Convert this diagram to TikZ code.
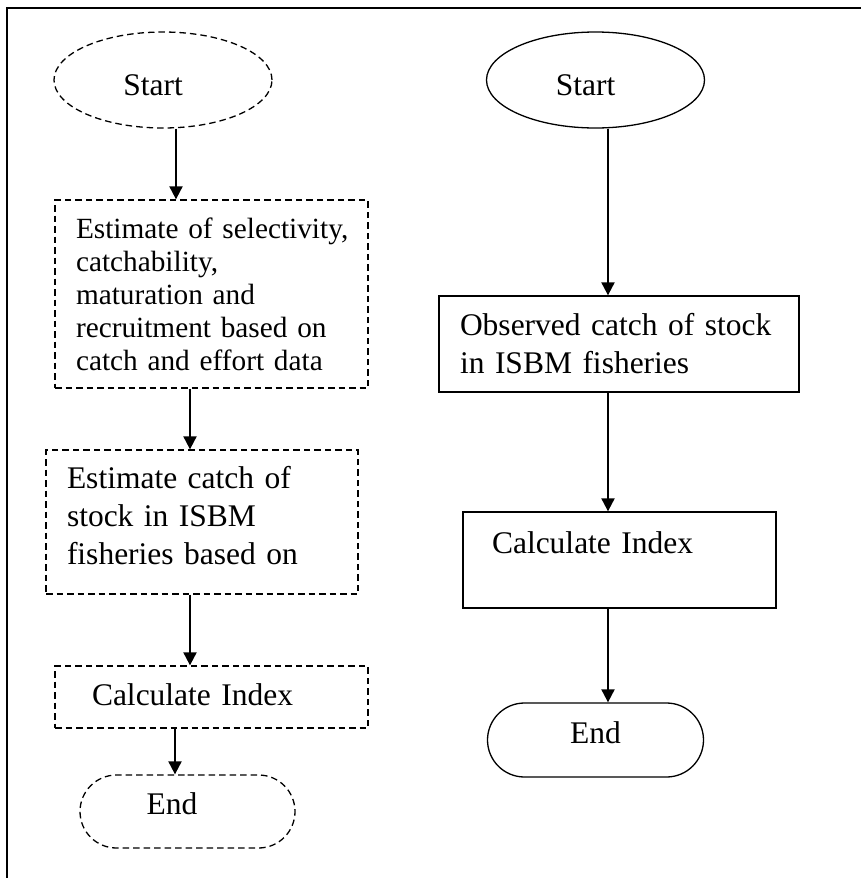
\documentclass[tikz,border=0pt]{standalone}
\usepackage{fontspec}
\setmainfont{Liberation Serif}
\usepackage{tikz}
\usetikzlibrary{shapes.geometric}
\usetikzlibrary{shapes.misc}
\usetikzlibrary{arrows.meta}
\hyphenpenalty=10000
\exhyphenpenalty=10000

\tikzset{
  frame/.style={line width=2pt},
  base/.style={draw, line width=1.3pt, inner sep=0pt, font=\fontsize{31.5}{38}\selectfont},
  guess/.style={base, dash pattern=on 6.5pt off 4pt},
  term/.style={ellipse, minimum width=218pt, minimum height=96pt, text height=30pt, text depth=0pt},
  stop/.style={rounded rectangle, minimum width=216pt, minimum height=74pt, text height=22pt, text depth=16pt},
  box/.style={rectangle, align=left},
  arr/.style={-{Triangle[length=13pt,width=13pt]}, line width=2pt}
}

\begin{document}
\begin{tikzpicture}[x=1pt,y=-1pt]
  \useasboundingbox (0,0) rectangle (861,878);
  \draw[frame] (7,878) -- (7,8) -- (861,8);

  \node[guess,term] (lstart) at (163,80) {Start\kern20pt};
  \node[guess,box,minimum width=313pt,minimum height=188pt,text width=271pt,
        font=\fontsize{29.3}{33}\selectfont] (lsel) at (211.5,294)
    {\makebox[271pt][l]{Estimate of selectivity,}\\catchability,\\maturation and\\recruitment based on\\catch and effort data};
  \node[guess,box,minimum width=312pt,minimum height=144pt,text width=270pt,
        text height=22pt,text depth=90pt] (lcatch) at (202,522)
    {Estimate catch of\\stock in ISBM\\fisheries based on};
  \node[guess,box,minimum width=313pt,minimum height=62pt,text width=239pt,
        text height=22pt,text depth=5pt] (lindex) at (211.5,697) {Calculate Index};
  \node[guess,stop,minimum width=215pt,minimum height=73pt] (lend) at (187.5,811.5) {End\kern31pt};

  \node[base,term] (rstart) at (595.5,80) {Start\kern20pt};
  \node[base,box,minimum width=360pt,minimum height=96pt,text width=318pt] (robs) at (619,344)
    {Observed catch of stock\\in ISBM fisheries};
  \node[base,box,minimum width=313pt,minimum height=96pt,text width=255pt,
        text height=22pt,text depth=36pt] (rindex) at (619.5,560) {Calculate Index};
  \node[base,stop] (rend) at (595.5,740) {End};

  \draw[arr] ([xshift=13pt]lstart.south) -- ([xshift=-35.5pt]lsel.north);
  \draw[arr] ([xshift=-21.5pt]lsel.south) -- ([xshift=-12pt]lcatch.north);
  \draw[arr] ([xshift=-12pt]lcatch.south) -- ([xshift=-21.5pt]lindex.north);
  \draw[arr] ([xshift=-36.5pt]lindex.south) -- ([xshift=-12.5pt]lend.north);

  \draw[arr] ([xshift=12.5pt]rstart.south) -- ([xshift=-11pt]robs.north);
  \draw[arr] ([xshift=-11pt]robs.south) -- ([xshift=-11.5pt]rindex.north);
  \draw[arr] ([xshift=-11.5pt]rindex.south) -- ([xshift=12.5pt]rend.north);
\end{tikzpicture}
\end{document}
